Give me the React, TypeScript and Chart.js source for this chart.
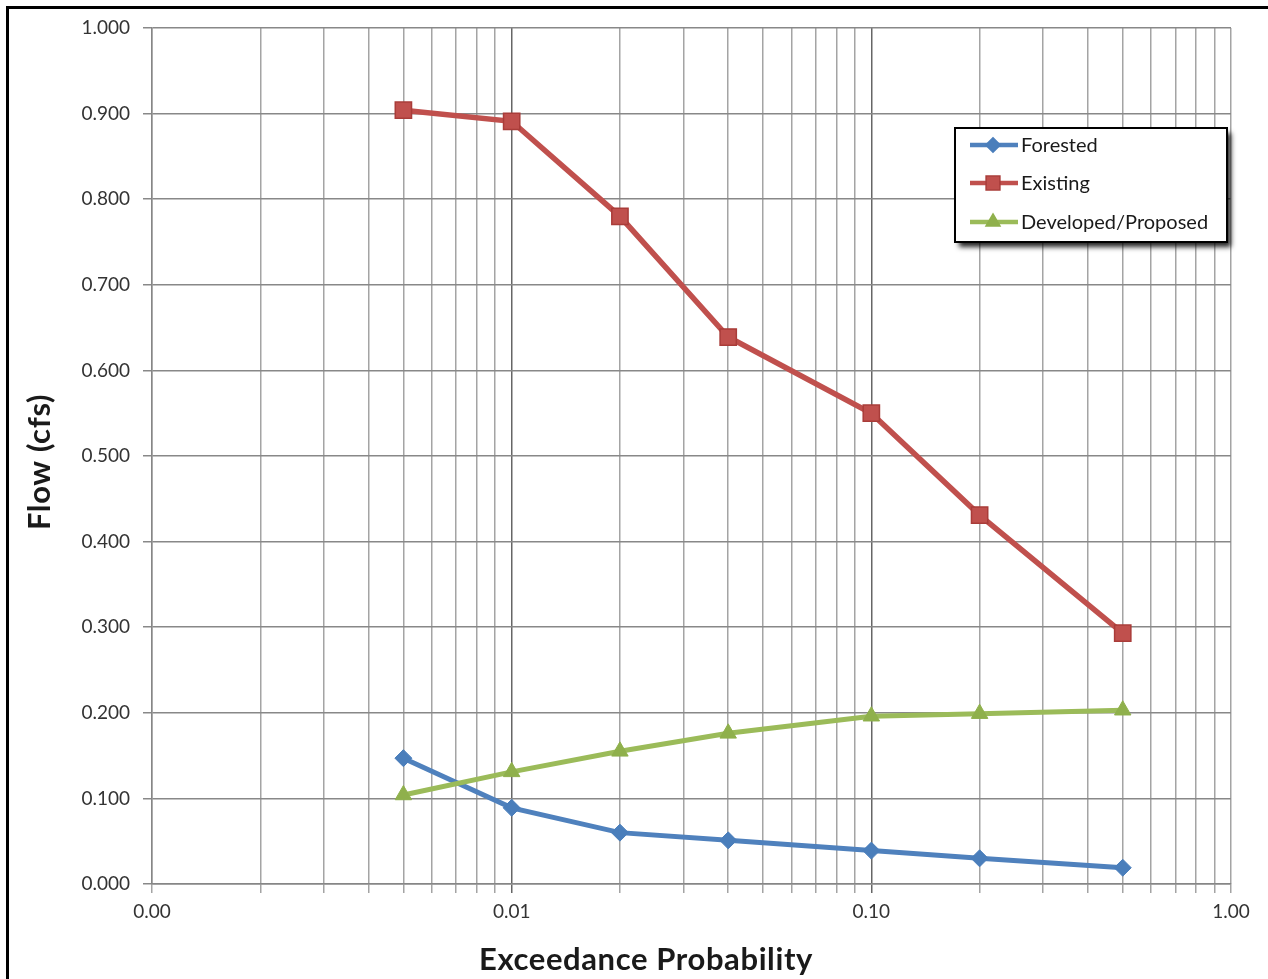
import React, { useEffect, useRef } from 'react';
import { Chart, registerables } from 'chart.js';

Chart.register(...registerables);

// ---- data ----
const PROBABILITY = [0.005, 0.01, 0.02, 0.04, 0.1, 0.2, 0.5];
const FORESTED = [0.147, 0.089, 0.060, 0.051, 0.039, 0.030, 0.019];
const EXISTING = [0.904, 0.891, 0.780, 0.639, 0.550, 0.431, 0.293];
const DEVELOPED = [0.104, 0.131, 0.155, 0.176, 0.196, 0.199, 0.203];
const SERIES_NAMES = ['Forested', 'Existing', 'Developed/Proposed'];
const X_DECADES = [0.001, 0.01, 0.1, 1];
const X_MULTIPLIERS = [1, 2, 3, 4, 5, 6, 7, 8, 9];
const X_TITLE = 'Exceedance Probability';
const Y_TITLE = 'Flow (cfs)';

const COLORS = {
  forested: '#4F81BD',
  forestedPt: '#4A7EBB',
  existing: '#C0504D',
  existingPt: '#A93C39',
  developed: '#9BBB59',
  developedPt: '#8FB04C',
};

const FONT = 'Lato, "Open Sans", "Liberation Sans", sans-serif';

const isDecade = (v: number) => {
  const l = Math.log10(v);
  return Math.abs(l - Math.round(l)) < 1e-9;
};

const gridValues = (): number[] => {
  const out: number[] = [];
  X_DECADES.slice(0, -1).forEach((d) => {
    X_MULTIPLIERS.forEach((m) => out.push(parseFloat((d * m).toPrecision(6))));
  });
  out.push(X_DECADES[X_DECADES.length - 1]);
  return out;
};

function drawMarker(ctx: CanvasRenderingContext2D, style: string, x: number, y: number, r: number, fill: string, stroke: string) {
  ctx.save();
  ctx.beginPath();
  if (style === 'rect') {
    const s = r * Math.SQRT1_2;
    ctx.rect(x - s, y - s, 2 * s, 2 * s);
  } else if (style === 'rectRot') {
    ctx.moveTo(x, y - r);
    ctx.lineTo(x + r, y);
    ctx.lineTo(x, y + r);
    ctx.lineTo(x - r, y);
    ctx.closePath();
  } else {
    ctx.moveTo(x, y - r);
    ctx.lineTo(x + r * 0.866, y + r * 0.5);
    ctx.lineTo(x - r * 0.866, y + r * 0.5);
    ctx.closePath();
  }
  ctx.fillStyle = fill;
  ctx.fill();
  ctx.lineWidth = 1.5;
  ctx.strokeStyle = stroke;
  ctx.stroke();
  ctx.restore();
}

const customLegend = {
  id: 'customLegend',
  afterDraw(chart: any) {
    const ctx: CanvasRenderingContext2D = chart.ctx;
    const bx = 955, by = 128, bw = 272, bh = 114;
    ctx.save();
    ctx.shadowColor = 'rgba(0,0,0,0.85)';
    ctx.shadowBlur = 5;
    ctx.shadowOffsetX = 4;
    ctx.shadowOffsetY = 5;
    ctx.fillStyle = '#ffffff';
    ctx.fillRect(bx, by, bw, bh);
    ctx.restore();
    ctx.save();
    ctx.lineWidth = 2;
    ctx.strokeStyle = '#000000';
    ctx.strokeRect(bx, by, bw, bh);
    const rows = [145, 183, 222];
    chart.data.datasets.forEach((ds: any, i: number) => {
      const y = rows[i];
      ctx.beginPath();
      ctx.moveTo(970, y);
      ctx.lineTo(1018, y);
      ctx.lineWidth = 4.5;
      ctx.strokeStyle = ds.borderColor;
      ctx.stroke();
      drawMarker(ctx, ds.pointStyle, 993, y, ds.pointRadius * 0.85, ds.pointBackgroundColor, ds.pointBorderColor);
      ctx.fillStyle = '#1a1a1a';
      ctx.font = `20px ${FONT}`;
      ctx.textAlign = 'left';
      ctx.textBaseline = 'middle';
      ctx.fillText(ds.label, 1021, y + 1);
    });
    ctx.restore();
  },
};

const titlesPlugin = {
  id: 'axisTitles',
  afterDraw(chart: any) {
    const ctx: any = chart.ctx;
    ctx.save();
    ctx.font = `bold 31px ${FONT}`;
    ctx.fillStyle = '#1a1a1a';
    ctx.textAlign = 'center';
    ctx.textBaseline = 'middle';
    ctx.letterSpacing = '0.6px';
    ctx.fillText(X_TITLE, 646, 960);
    ctx.translate(40, 462);
    ctx.rotate(-Math.PI / 2);
    ctx.fillText(Y_TITLE, 0, 0);
    ctx.restore();
  },
};

export default function App() {
  const canvasRef = useRef<HTMLCanvasElement | null>(null);

  useEffect(() => {
    const canvas = canvasRef.current;
    if (!canvas) return;
    const toPts = (arr: number[]) => PROBABILITY.map((x, i) => ({ x, y: arr[i] }));
    const chart = new Chart(canvas, {
      type: 'line',
      data: {
        datasets: [
          {
            label: SERIES_NAMES[0],
            data: toPts(FORESTED),
            borderColor: COLORS.forested,
            backgroundColor: COLORS.forested,
            pointBackgroundColor: COLORS.forestedPt,
            pointBorderColor: COLORS.forestedPt,
            pointStyle: 'rectRot',
            pointRadius: 8.5,
            pointBorderWidth: 1,
            borderWidth: 5,
            order: 3,
          } as any,
          {
            label: SERIES_NAMES[1],
            data: toPts(EXISTING),
            borderColor: COLORS.existing,
            backgroundColor: COLORS.existing,
            pointBackgroundColor: COLORS.existing,
            pointBorderColor: COLORS.existingPt,
            pointStyle: 'rect',
            pointRadius: 11.5,
            pointBorderWidth: 1.5,
            borderWidth: 5.5,
            order: 1,
          } as any,
          {
            label: SERIES_NAMES[2],
            data: toPts(DEVELOPED),
            borderColor: COLORS.developed,
            backgroundColor: COLORS.developed,
            pointBackgroundColor: COLORS.developedPt,
            pointBorderColor: COLORS.developedPt,
            pointStyle: 'triangle',
            pointRadius: 9.5,
            pointBorderWidth: 1,
            borderWidth: 5,
            order: 2,
          } as any,
        ],
      },
      options: {
        animation: false,
        responsive: false,
        maintainAspectRatio: false,
        layout: { padding: { left: 10, top: 28, right: 37, bottom: 0 } },
        plugins: {
          legend: { display: false },
          tooltip: { enabled: false },
        },
        elements: { line: { tension: 0 } },
        scales: {
          x: {
            type: 'logarithmic',
            min: 0.001,
            max: 1,
            afterBuildTicks: (scale: any) => {
              scale.ticks = gridValues().map((v) => ({ value: v, major: isDecade(v) }));
            },
            afterFit: (scale: any) => {
              scale.height = 95;
            },
            ticks: {
              autoSkip: false,
              maxRotation: 0,
              minRotation: 0,
              padding: 7,
              color: '#333333',
              font: { family: FONT, size: 19 },
              callback: (value: any) => {
                const v = Number(value);
                return isDecade(v) ? v.toFixed(2) : '';
              },
            },
            grid: {
              color: (ctx: any) => {
                const v = ctx.tick ? ctx.tick.value : 0;
                if (isDecade(v) && v > 0.001 && v < 1) return '#666666';
                return '#a4a4a4';
              },
              lineWidth: 1.5,
              tickLength: 9,
              drawTicks: true,
            },
            border: { color: '#868686', width: 1.5 },
          },
          y: {
            type: 'linear',
            min: 0,
            max: 1,
            afterFit: (scale: any) => {
              scale.width = 142;
            },
            ticks: {
              stepSize: 0.1,
              padding: 13,
              color: '#333333',
              font: { family: FONT, size: 19 },
              callback: (value: any) => Number(value).toFixed(3),
            },
            grid: {
              color: '#888888',
              lineWidth: 1.5,
              tickLength: 9,
              drawTicks: true,
            },
            border: { color: '#868686', width: 1.5 },
          },
        },
      } as any,
      plugins: [customLegend, titlesPlugin],
    });
    return () => chart.destroy();
  }, []);

  return (
    <div
      style={{
        position: 'fixed',
        left: 0,
        top: 0,
        width: 1268,
        height: 979,
        overflow: 'hidden',
        background: '#ffffff',
      }}
    >
      <canvas
        ref={canvasRef}
        width={1268}
        height={979}
        style={{ position: 'absolute', left: 0, top: 0, width: 1268, height: 979 }}
      />
      <div
        style={{
          position: 'absolute',
          left: 6,
          top: 6,
          width: 1400,
          height: 1100,
          borderLeft: '3px solid #000',
          borderTop: '3px solid #000',
          pointerEvents: 'none',
        }}
      />
    </div>
  );
}
